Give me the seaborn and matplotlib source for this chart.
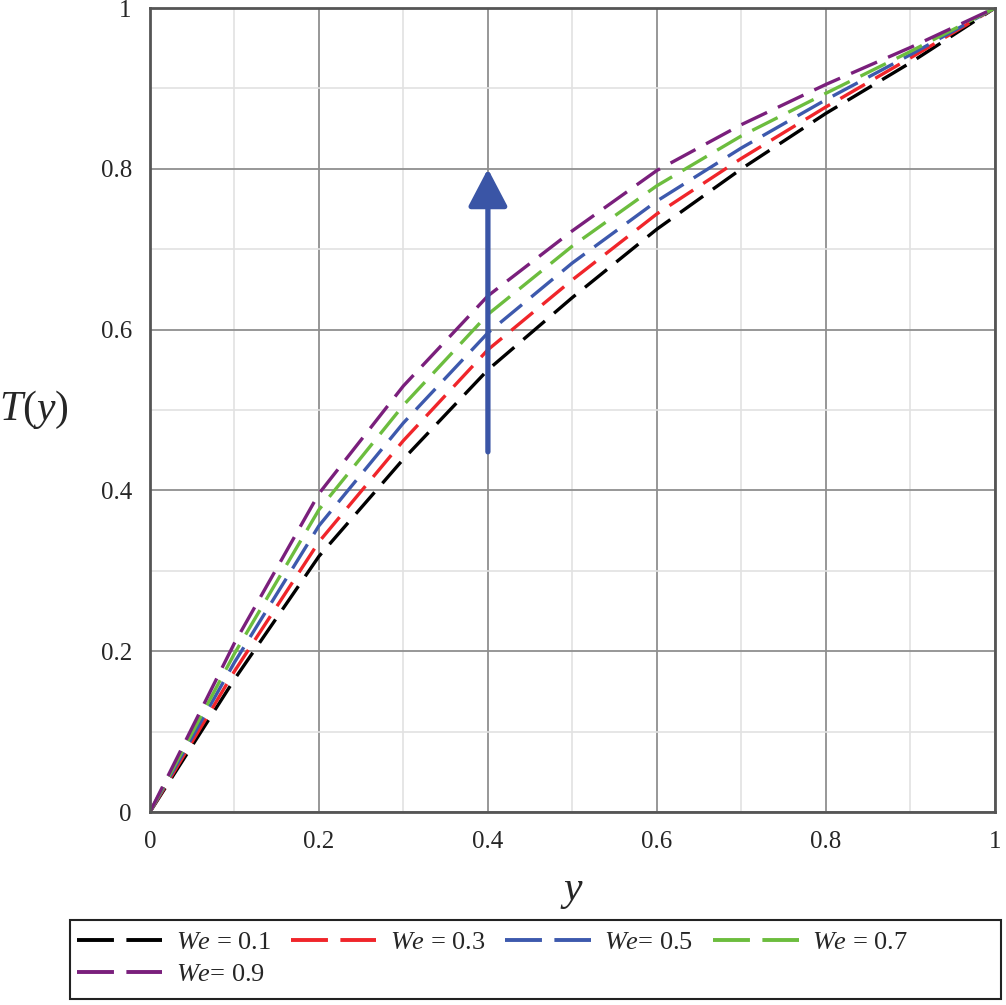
import matplotlib
matplotlib.use("Agg")
import matplotlib.pyplot as plt
import seaborn as sns
import pandas as pd
from matplotlib import font_manager
from matplotlib.ticker import MultipleLocator
from matplotlib.patches import Rectangle

# ---- data ----
y_pos = [0.0, 0.1, 0.2, 0.3, 0.4, 0.5, 0.6, 0.7, 0.8, 0.9, 1.0]
T_we01 = [0.0, 0.165, 0.318, 0.439, 0.550, 0.640, 0.725, 0.800, 0.869, 0.932, 1.0]
T_we03 = [0.0, 0.175, 0.336, 0.462, 0.575, 0.662, 0.744, 0.813, 0.877, 0.938, 1.0]
T_we05 = [0.0, 0.186, 0.356, 0.484, 0.596, 0.683, 0.760, 0.826, 0.886, 0.942, 1.0]
T_we07 = [0.0, 0.197, 0.376, 0.506, 0.619, 0.704, 0.779, 0.841, 0.894, 0.946, 1.0]
T_we09 = [0.0, 0.210, 0.396, 0.530, 0.642, 0.723, 0.798, 0.855, 0.905, 0.951, 1.0]
series_labels = ["$\\it{We}$ = 0.1", "$\\it{We}$ = 0.3", "$\\it{We}$= 0.5",
                 "$\\it{We}$ = 0.7", "$\\it{We}$= 0.9"]
series_colors = ["#000000", "#f0252a", "#3d59ad", "#6cbd3e", "#7a1f7c"]
x_ticks = [0, 0.2, 0.4, 0.6, 0.8, 1.0]
x_ticklabels = ["0", "0.2", "0.4", "0.6", "0.8", "1"]
y_ticks = [0, 0.2, 0.4, 0.6, 0.8, 1.0]
y_ticklabels = ["0", "0.2", "0.4", "0.6", "0.8", "1"]
arrow_x, arrow_y0, arrow_y1 = 0.4, 0.448, 0.80

all_T = [T_we01, T_we03, T_we05, T_we07, T_we09]
df = pd.concat([pd.DataFrame({"y": y_pos, "T": t, "case": lab})
                for t, lab in zip(all_T, series_labels)], ignore_index=True)

# make sure Liberation Serif is registered
for f in font_manager.findSystemFonts():
    if "liberationserif" in f.lower().replace("-", "").replace(" ", ""):
        try:
            font_manager.fontManager.addfont(f)
        except Exception:
            pass

sns.set_theme(style="white")
plt.rcParams["font.family"] = ["Liberation Serif", "DejaVu Serif"]
plt.rcParams["mathtext.fontset"] = "custom"
plt.rcParams["mathtext.it"] = "Liberation Serif:italic"
plt.rcParams["mathtext.rm"] = "Liberation Serif"

fig = plt.figure(figsize=(10.06, 10.05), dpi=100)
ax = fig.add_axes([0.149, 0.192, 0.840, 0.800])

# grid
ax.set_axisbelow(True)
ax.xaxis.set_minor_locator(MultipleLocator(0.1))
ax.yaxis.set_minor_locator(MultipleLocator(0.1))
ax.grid(which="minor", color="#e2e2e2", lw=1.2)
ax.grid(which="major", color="#8f8f8f", lw=1.3)

sns.lineplot(data=df, x="y", y="T", hue="case", style="case",
             palette=dict(zip(series_labels, series_colors)),
             dashes={lab: (8.5, 3.6) for lab in series_labels},
             linewidth=2.4, sort=False, estimator=None, legend=False, ax=ax)

ax.set_xlim(0, 1)
ax.set_ylim(0, 1)
ax.set_xticks(x_ticks)
ax.set_xticklabels(x_ticklabels)
ax.set_yticks(y_ticks)
ax.set_yticklabels(y_ticklabels)
ax.tick_params(which="both", direction="out", color="black", labelsize=18)
ax.tick_params(which="major", length=5, width=1.5)
ax.tick_params(which="minor", length=4, width=1.2)
ax.tick_params(axis="y", pad=8)
ax.tick_params(axis="x", pad=9)
for sp in ax.spines.values():
    sp.set_color("#555555")
    sp.set_linewidth(2.0)

ax.set_xlabel("$\\it{y}$", fontsize=30, labelpad=14)
ax.set_ylabel("$\\it{T(y)}$", fontsize=30, rotation=0, labelpad=48, va="center")

# arrow
ax.annotate("", xy=(arrow_x, arrow_y1), xytext=(arrow_x, arrow_y0),
            arrowprops=dict(arrowstyle="-|>,head_length=1.05,head_width=0.55",
                            mutation_scale=22, lw=3.8, color="#3a55a6",
                            shrinkA=0, shrinkB=0))

# legend (row-wise order: 0.1 0.3 0.5 0.7 / 0.9)
handles = []
for lab, col in zip(series_labels, series_colors):
    h, = ax.plot([], [], color=col, lw=2.8, dashes=(9.5, 3.2), label=lab)
    handles.append(h)
order = [0, 4, 1, 2, 3]
leg = fig.legend(handles=[handles[i] for i in order],
                 labels=[series_labels[i] for i in order], ncol=4,
                 loc="upper left", bbox_to_anchor=(0.071, 0.079),
                 fontsize=19, frameon=False, handlelength=3.25,
                 handletextpad=0.5, columnspacing=0.75, borderaxespad=0,
                 borderpad=0.2, labelspacing=0.3)
fig.patches.append(Rectangle((0.070, 0.006), 0.925, 0.079, transform=fig.transFigure,
                             fill=False, edgecolor="#222222", lw=1.5))

fig.savefig("out.png", dpi=100, facecolor="white")
